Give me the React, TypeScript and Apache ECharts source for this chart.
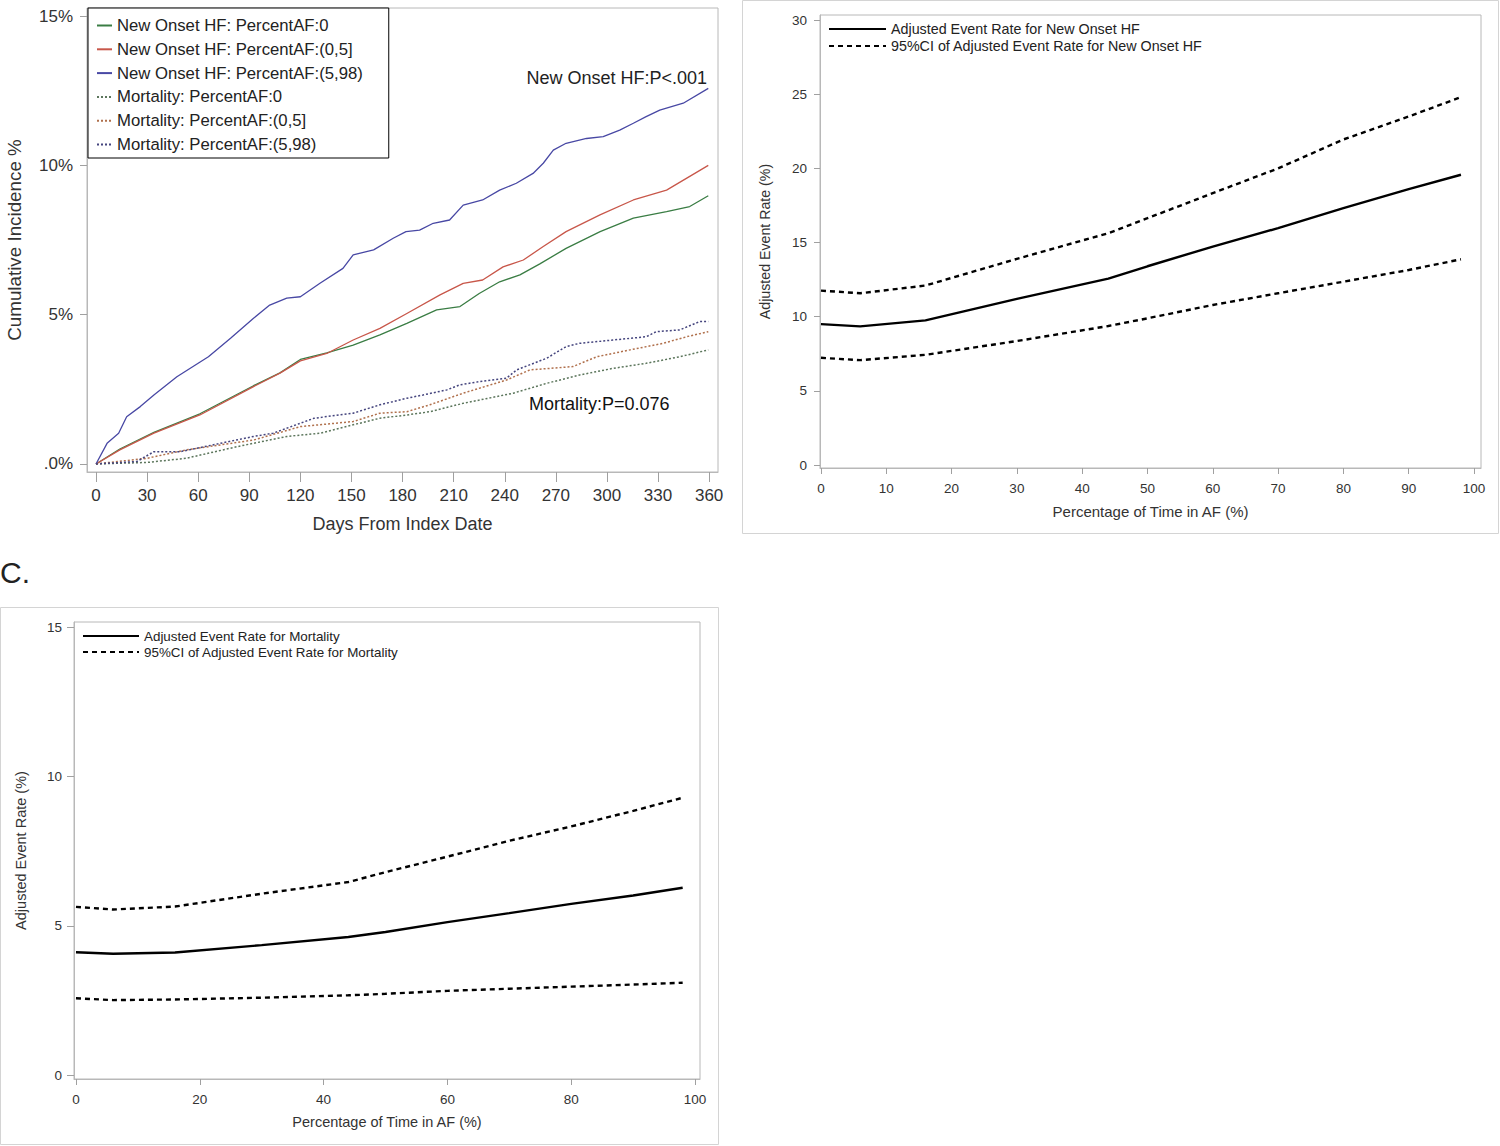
import React, { useEffect, useRef } from "react";
import * as echarts from "echarts";

const FONT = "'Liberation Sans', Arial, Helvetica, sans-serif";

// ---------- Panel A: cumulative incidence (days, %) ----------
const dayTicks = [0, 30, 60, 90, 120, 150, 180, 210, 240, 270, 300, 330, 360];
const pctTicks = [0, 5, 10, 15];

const hfAF0: number[][] = [
  [0, 0], [14, 0.5], [34, 1.06], [61, 1.68], [92.5, 2.62], [108, 3.05], [120, 3.5],
  [135.5, 3.72], [151, 3.98], [166.7, 4.32], [182.5, 4.71], [200, 5.16], [213.7, 5.27],
  [225, 5.71], [237, 6.1], [248.9, 6.33], [260.6, 6.7], [276, 7.22], [296, 7.78],
  [315.5, 8.23], [335, 8.45], [348.6, 8.62], [359.5, 8.98],
];
const hfAF05: number[][] = [
  [0, 0], [14, 0.47], [34, 1.03], [61, 1.64], [92.5, 2.59], [108, 3.04], [120, 3.45],
  [135.5, 3.7], [151, 4.15], [166.7, 4.54], [182.5, 5.04], [202, 5.66], [215.6, 6.05],
  [227, 6.16], [239, 6.6], [250.9, 6.83], [262.6, 7.28], [276, 7.78], [295.9, 8.34],
  [315.5, 8.84], [335, 9.17], [359.5, 10.0],
];
const hfAF598: number[][] = [
  [0, 0], [6.5, 0.69], [13.3, 1.03], [18, 1.58], [26, 1.92], [34, 2.31], [47.5, 2.92],
  [66, 3.59], [79, 4.21], [92.5, 4.88], [102, 5.32], [112, 5.55], [120, 5.6],
  [131.5, 6.05], [145, 6.55], [151, 7.0], [163, 7.17], [174.5, 7.56], [182, 7.78],
  [190, 7.83], [198, 8.06], [207.6, 8.17], [215.6, 8.67], [227, 8.84], [237, 9.17],
  [246.8, 9.4], [256.6, 9.73], [262.6, 10.07], [268.5, 10.51], [276, 10.74], [288, 10.9],
  [297.8, 10.96], [307.5, 11.18], [315.5, 11.41], [323, 11.63], [331, 11.85],
  [344.8, 12.08], [359.5, 12.58],
];
const mortAF0: number[][] = [
  [0, 0], [30, 0.05], [53, 0.19], [83, 0.58], [112, 0.92], [131.7, 1.03], [151, 1.31],
  [166.7, 1.53], [182.5, 1.64], [196, 1.75], [215.6, 2.03], [245, 2.37], [264.6, 2.7],
  [284, 2.98], [303.5, 3.2], [323, 3.37], [342.8, 3.59], [359.5, 3.82],
];
const mortAF05: number[][] = [
  [0, 0], [30, 0.19], [53, 0.47], [92.5, 0.8], [120, 1.25], [151, 1.42], [166.7, 1.7],
  [182.5, 1.75], [196, 1.98], [215.6, 2.37], [241, 2.81], [254.8, 3.15], [280, 3.26],
  [294, 3.59], [313.6, 3.82], [333, 4.04], [346.8, 4.26], [359.5, 4.43],
];
const mortAF598: number[][] = [
  [0, 0], [24, 0.08], [34, 0.41], [49.5, 0.41], [73, 0.69], [92.5, 0.92], [104, 1.03],
  [128, 1.53], [151, 1.7], [166.7, 1.98], [182.5, 2.2], [192, 2.31], [206, 2.48],
  [213.7, 2.65], [225.5, 2.76], [241, 2.87], [247, 3.15], [264.6, 3.54], [276, 3.93],
  [284, 4.04], [303.5, 4.15], [323, 4.26], [329, 4.43], [342.8, 4.49], [354.5, 4.77],
  [359.5, 4.77],
];

// ---------- Panels B and C: adjusted event rate vs % time in AF ----------
const afPoints = [0, 6, 16, 30, 44, 50, 60, 70, 80, 90, 98];
const ticksB_x = [0, 10, 20, 30, 40, 50, 60, 70, 80, 90, 100];
const ticksB_y = [0, 5, 10, 15, 20, 25, 30];
const hfRate = [9.5, 9.35, 9.75, 11.2, 12.57, 13.4, 14.73, 15.97, 17.32, 18.6, 19.57];
const hfUpper = [11.76, 11.58, 12.1, 13.9, 15.63, 16.64, 18.33, 20.0, 21.95, 23.5, 24.8];
const hfLower = [7.23, 7.07, 7.43, 8.36, 9.37, 9.89, 10.79, 11.58, 12.36, 13.15, 13.87];

const ticksC_x = [0, 20, 40, 60, 80, 100];
const ticksC_y = [0, 5, 10, 15];
const mortRate = [4.12, 4.07, 4.11, 4.36, 4.63, 4.8, 5.13, 5.43, 5.74, 6.02, 6.28];
const mortUpper = [5.64, 5.55, 5.65, 6.08, 6.47, 6.8, 7.32, 7.85, 8.33, 8.85, 9.29];
const mortLower = [2.58, 2.52, 2.54, 2.6, 2.68, 2.73, 2.83, 2.9, 2.97, 3.04, 3.1];

const zip = (xs: number[], ys: number[]) => xs.map((x, i) => [x, ys[i]]);

const FRAME = "#b8b8b8";
const TICK = "#a0a0a0";
const LABEL = "#333";
const NO_SYMBOL = { color: "transparent", borderWidth: 0, opacity: 0 };

function valAxis(grid: number, min: number, max: number, ticks: number[], o: any) {
  return {
    gridIndex: grid,
    type: "value",
    min,
    max,
    axisLine: { show: true, onZero: false, lineStyle: { color: FRAME } },
    axisTick: { show: true, customValues: ticks, length: o.tickLen, lineStyle: { color: TICK } },
    axisLabel: {
      customValues: ticks,
      margin: o.margin,
      fontSize: o.fontSize,
      color: LABEL,
      fontFamily: FONT,
      formatter: o.formatter,
    },
    splitLine: { show: false },
    name: o.name,
    nameLocation: "middle",
    nameGap: o.nameGap,
    nameTextStyle: { fontSize: o.nameSize, color: LABEL, fontFamily: FONT },
  };
}

function buildOption() {
  const kmSeries = [
    { name: "New Onset HF: PercentAF:0", data: hfAF0, color: "#3a7d44", dot: false },
    { name: "New Onset HF: PercentAF:(0,5]", data: hfAF05, color: "#c8574a", dot: false },
    { name: "New Onset HF: PercentAF:(5,98)", data: hfAF598, color: "#4848a4", dot: false },
    { name: "Mortality: PercentAF:0", data: mortAF0, color: "#5c765c", dot: true },
    { name: "Mortality: PercentAF:(0,5]", data: mortAF05, color: "#b0704c", dot: true },
    { name: "Mortality: PercentAF:(5,98)", data: mortAF598, color: "#45457e", dot: true },
  ];

  const series: any[] = kmSeries.map((s) => ({
    type: "line",
    name: s.name,
    xAxisIndex: 0,
    yAxisIndex: 0,
    data: s.data,
    symbol: "none",
    silent: true,
    itemStyle: { color: s.color },
    lineStyle: { color: s.color, width: s.dot ? 1.5 : 1.3, type: s.dot ? [2, 2] : "solid" },
  }));

  const rateLine = (name: string, idx: number, ys: number[], dashed: boolean) => ({
    type: "line",
    name,
    xAxisIndex: idx,
    yAxisIndex: idx,
    data: zip(afPoints, ys),
    symbol: "none",
    silent: true,
    itemStyle: { color: "#000" },
    lineStyle: { color: "#000", width: 2.4, type: dashed ? [5, 4] : "solid" },
  });

  const nameB1 = "Adjusted Event Rate for New Onset HF";
  const nameB2 = "95%CI of Adjusted Event Rate for New Onset HF";
  const nameC1 = "Adjusted Event Rate for Mortality";
  const nameC2 = "95%CI of Adjusted Event Rate for Mortality";

  series.push(
    rateLine(nameB2, 1, hfUpper, true),
    rateLine(nameB2, 1, hfLower, true),
    rateLine(nameB1, 1, hfRate, false),
    rateLine(nameC2, 2, mortUpper, true),
    rateLine(nameC2, 2, mortLower, true),
    rateLine(nameC1, 2, mortRate, false)
  );

  return {
    animation: false,
    backgroundColor: "#fff",
    textStyle: { fontFamily: FONT },
    grid: [
      { left: 87, top: 8, width: 631, height: 464, show: true, borderColor: FRAME, borderWidth: 1 },
      { left: 820, top: 15, width: 661, height: 453, show: true, borderColor: FRAME, borderWidth: 1 },
      { left: 74, top: 622, width: 626, height: 457, show: true, borderColor: FRAME, borderWidth: 1 },
    ],
    xAxis: [
      valAxis(0, -5.28, 365.2, dayTicks, {
        tickLen: 10, margin: 15, fontSize: 17, name: "Days From Index Date", nameGap: 43, nameSize: 18,
      }),
      valAxis(1, -0.15, 101.07, ticksB_x, {
        tickLen: 6, margin: 13, fontSize: 13.5, name: "Percentage of Time in AF (%)", nameGap: 36, nameSize: 15,
      }),
      valAxis(2, -0.32, 100.8, ticksC_x, {
        tickLen: 6, margin: 13, fontSize: 13.5, name: "Percentage of Time in AF (%)", nameGap: 35, nameSize: 14.5,
      }),
    ],
    yAxis: [
      valAxis(0, -0.27, 15.27, pctTicks, {
        tickLen: 7, margin: 14, fontSize: 17, name: "Cumulative Incidence %", nameGap: 63, nameSize: 18.8,
        formatter: (v: number) => (v === 0 ? ".0%" : v + "%"),
      }),
      valAxis(1, -0.2, 30.34, ticksB_y, {
        tickLen: 6, margin: 13, fontSize: 13.5, name: "Adjusted Event Rate (%)", nameGap: 48, nameSize: 14.2,
      }),
      valAxis(2, -0.12, 15.17, ticksC_y, {
        tickLen: 7, margin: 12, fontSize: 13.5, name: "Adjusted Event Rate (%)", nameGap: 46, nameSize: 14.5,
      }),
    ],
    legend: [
      {
        orient: "vertical",
        left: 88,
        top: 8,
        padding: [9, 26, 5, 8],
        itemGap: 6.8,
        itemWidth: 15,
        itemHeight: 14,
        borderColor: "#000",
        borderWidth: 1,
        backgroundColor: "#fff",
        selectedMode: false,
        itemStyle: NO_SYMBOL,
        textStyle: { fontSize: 16.7, color: "#222", fontFamily: FONT },
        data: kmSeries.map((s) => s.name),
      },
      {
        orient: "vertical",
        left: 828,
        top: 22,
        padding: 0,
        itemGap: 3,
        itemWidth: 57,
        itemHeight: 10,
        selectedMode: false,
        itemStyle: NO_SYMBOL,
        textStyle: { fontSize: 14.3, color: "#222", fontFamily: FONT },
        data: [nameB1, nameB2],
      },
      {
        orient: "vertical",
        left: 82,
        top: 629.5,
        padding: 0,
        itemGap: 3,
        itemWidth: 56,
        itemHeight: 10,
        selectedMode: false,
        itemStyle: NO_SYMBOL,
        textStyle: { fontSize: 13.4, color: "#222", fontFamily: FONT },
        data: [nameC1, nameC2],
      },
    ],
    graphic: [
      {
        type: "rect",
        silent: true,
        z: -10,
        shape: { x: 742.5, y: 0.5, width: 756, height: 533 },
        style: { fill: "none", stroke: "#d4d4d4", lineWidth: 1 },
      },
      {
        type: "rect",
        silent: true,
        z: -10,
        shape: { x: 0.5, y: 607.5, width: 718, height: 537 },
        style: { fill: "none", stroke: "#d4d4d4", lineWidth: 1 },
      },
      {
        type: "text",
        x: 0,
        y: 572,
        style: { text: "C.", fontSize: 30, fontFamily: FONT, fill: "#222", align: "left", verticalAlign: "middle" },
      },
      {
        type: "text",
        x: 707,
        y: 78,
        style: { text: "New Onset HF:P<.001", fontSize: 18, fontFamily: FONT, fill: "#222", align: "right", verticalAlign: "middle" },
      },
      {
        type: "text",
        x: 529,
        y: 404,
        style: { text: "Mortality:P=0.076", fontSize: 18, fontFamily: FONT, fill: "#111", align: "left", verticalAlign: "middle" },
      },
    ],
    series,
  };
}

export default function App() {
  const ref = useRef<HTMLDivElement>(null);
  useEffect(() => {
    if (!ref.current) return;
    const chart = echarts.init(ref.current, null, { renderer: "svg" });
    chart.setOption(buildOption() as any);
    return () => chart.dispose();
  }, []);
  return (
    <div
      ref={ref}
      style={{ position: "absolute", left: 0, top: 0, width: 1500, height: 1146, background: "#fff" }}
    />
  );
}
